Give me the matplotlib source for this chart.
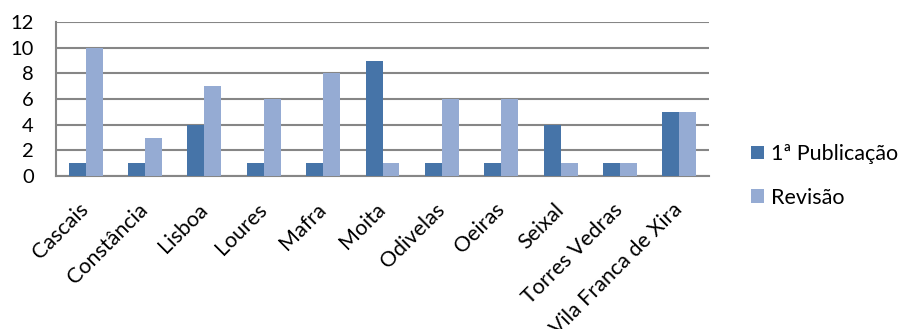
import numpy as np
import matplotlib
matplotlib.use('Agg')
import matplotlib.pyplot as plt

plt.rcParams['font.family'] = ['Lato', 'DejaVu Sans']

# dados
concelhos = ['Cascais', 'Constância', 'Lisboa', 'Loures', 'Mafra', 'Moita',
             'Odivelas', 'Oeiras', 'Seixal', 'Torres Vedras', 'Vila Franca de Xira']
publicacao = [1, 1, 4, 1, 1, 9, 1, 1, 4, 1, 5]
revisao = [10, 3, 7, 6, 8, 1, 6, 6, 1, 1, 5]
y_ticks = [0, 2, 4, 6, 8, 10, 12]

cor_pub = '#4674A8'
cor_rev = '#95ABD3'
cor_grelha = '#868686'

fig = plt.figure(figsize=(9.02, 3.29), dpi=100)
ax = fig.add_axes([56 / 902, 1 - 176 / 329, (709 - 56) / 902, (176 - 22) / 329])

x = np.arange(len(concelhos))
w = 0.285
ax.bar(x - w / 2, publicacao, w, color=cor_pub, label='1ª Publicação', zorder=3)
ax.bar(x + w / 2, revisao, w, color=cor_rev, label='Revisão', zorder=3)

ax.set_xlim(-0.5, len(concelhos) - 0.5)
ax.set_ylim(0, 12)
ax.set_yticks(y_ticks)
ax.set_yticklabels([str(v) for v in y_ticks], fontsize=14.5)
ax.set_xticks(x)
ax.set_xticklabels(concelhos, rotation=45, ha='right', va='center', rotation_mode='anchor', fontsize=15.5)
ax.tick_params(axis='x', length=0, pad=22)
ax.tick_params(axis='y', length=0, pad=16)

ax.grid(axis='y', color=cor_grelha, linewidth=1.5, zorder=0)
for s in ['top', 'right']:
    ax.spines[s].set_visible(False)
for s in ['left', 'bottom']:
    ax.spines[s].set_color(cor_grelha)
    ax.spines[s].set_linewidth(1.5)

leg = ax.legend(loc='center left', bbox_to_anchor=(1.035, 0.0), frameon=False, fontsize=15.5,
                handlelength=0.6, handleheight=0.6, handletextpad=0.3, labelspacing=1.1)

fig.savefig('out.png', dpi=100)
